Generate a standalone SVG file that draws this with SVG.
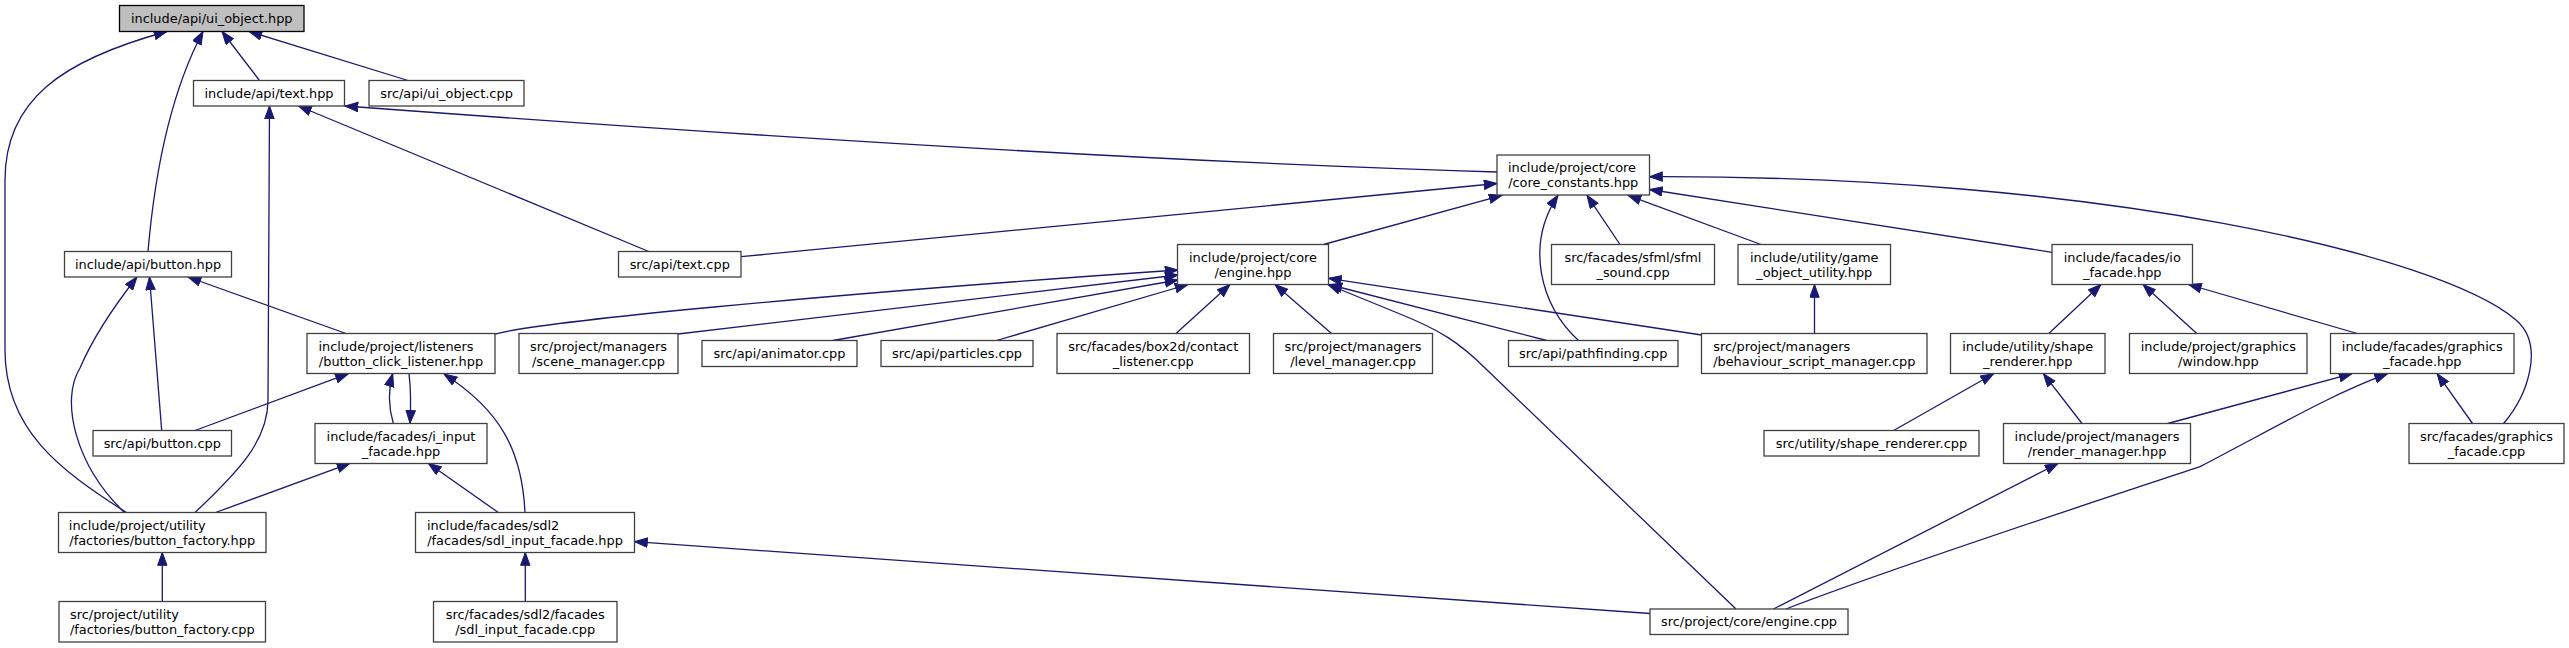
<svg xmlns="http://www.w3.org/2000/svg" width="2569" height="648" viewBox="0 0 2569 648">
<defs>
<style>
.n rect{fill:#ffffff;stroke:#404040;stroke-width:1.3}
.n.root rect{fill:#bfbfbf;stroke:#000000}
.n text{font-family:"DejaVu Sans","Liberation Sans",sans-serif;font-size:12.9px;fill:#000000}
.c{text-anchor:middle}
.e path{fill:none;stroke:#191970;stroke-width:1.3;marker-end:url(#arr)}
</style>
<marker id="arr" markerWidth="16" markerHeight="12" refX="13.3" refY="5" orient="auto" markerUnits="userSpaceOnUse">
<path d="M0.5,0.3 L13.3,5 L0.5,9.7 z" fill="#191970" stroke="#191970" stroke-width="1"/>
</marker>
</defs>
<rect width="2569" height="648" fill="#ffffff"/>
<g id="edges" class="e">
<path d="M148,251.5 C155,170 172,90 203,31.5"/>
<path d="M259.5,80.5 L222,31.5"/>
<path d="M408,80.5 L249,31.5"/>
<path d="M126.5,512.5 C60,470 5,430 5,350 L5,180 C5,100 62,60 167,31.5"/>
<path d="M195,512.5 C240,470 268,440 268,400 L269.5,106"/>
<path d="M648.8,251.5 L298.5,106"/>
<path d="M1497,172 C1100,160 600,125 345,106"/>
<path d="M741,256.7 L1497,183.5"/>
<path d="M1323.5,244.5 L1502,195.3"/>
<path d="M1579,341 C1540,305 1525,245 1558,195.3"/>
<path d="M1620,244.5 L1587,195.3"/>
<path d="M1761,244.5 L1628,195.3"/>
<path d="M2052,252.3 L1649.5,189.5"/>
<path d="M2503.6,423.5 C2528,395 2545,345 2516,320 C2440,255 2100,175 1649.5,176.7"/>
<path d="M495,334 C540,322 800,296 1178,270"/>
<path d="M678,334 L1178,275"/>
<path d="M832.8,340.5 L1178,280"/>
<path d="M996.5,340.5 L1188,284.5"/>
<path d="M1176,333.5 L1230,284.5"/>
<path d="M1331.5,333.5 L1275,284.5"/>
<path d="M1736,609 L1485,368 C1460,343 1440,330 1400,314 L1328,284.5"/>
<path d="M1548.7,341 L1329,284.5"/>
<path d="M1701.6,335 L1328.5,278.3"/>
<path d="M1814.5,333.5 L1814.5,284.5"/>
<path d="M2048.8,333.5 L2101,284.5"/>
<path d="M2196.8,333.5 L2143,284.5"/>
<path d="M2357.2,333.5 L2188.5,284.5"/>
<path d="M1893.6,430.5 L1993.6,373.7"/>
<path d="M2082,423.5 L2043.4,373.7"/>
<path d="M2167.8,423.5 L2352,373.7"/>
<path d="M1786,609 C1900,565 2100,500 2200,466.7 C2280,425 2330,395 2387.5,373.7"/>
<path d="M2472.5,423.5 L2437.2,373.7"/>
<path d="M1773.4,609 L2058,463.5"/>
<path d="M1650,613.5 L634.5,541.7"/>
<path d="M525.3,601.5 L525.3,552.5"/>
<path d="M162.3,601.5 L162.3,552.5"/>
<path d="M161.7,430.5 L149.5,277"/>
<path d="M124.4,512.5 C75,465 60,400 80,368 C92,340 115,305 137,277"/>
<path d="M346,333.5 L188,277"/>
<path d="M195,430.5 L348.3,373.7"/>
<path d="M393.3,423.5 C388,405 388,390 392.7,373.7"/>
<path d="M409,373.7 C411,390 411,405 410,423.3"/>
<path d="M525,512.5 C522,450 500,410 444,374"/>
<path d="M215.6,512.5 L350,463.3"/>
<path d="M498.3,512.5 L428.3,463.3"/>
</g>
<g id="n1" class="n root"><rect x="119.5" y="5.5" width="184.5" height="26"/><text class="c" x="211.75" y="23">include/api/ui_object.hpp</text></g>
<g id="n2" class="n"><rect x="193.5" y="80.5" width="151" height="25.5"/><text class="c" x="269" y="97.5">include/api/text.hpp</text></g>
<g id="n3" class="n"><rect x="369" y="80.5" width="155" height="25.5"/><text class="c" x="446.5" y="97.5">src/api/ui_object.cpp</text></g>
<g id="n4" class="n"><rect x="64.5" y="251.5" width="167" height="25.5"/><text class="c" x="148" y="268.5">include/api/button.hpp</text></g>
<g id="n5" class="n"><rect x="618.5" y="251.5" width="122.5" height="25.5"/><text class="c" x="679.75" y="268.5">src/api/text.cpp</text></g>
<g id="n6" class="n"><rect x="1497" y="155" width="152.5" height="40"/><text x="1508" y="172">include/project/core</text><text class="c" x="1573.25" y="187">/core_constants.hpp</text></g>
<g id="n7" class="n"><rect x="1177.5" y="244.5" width="151" height="40"/><text class="c" x="1253" y="261.5">include/project/core</text><text class="c" x="1253" y="276.5">/engine.hpp</text></g>
<g id="n8" class="n"><rect x="1551.5" y="244.5" width="163" height="40"/><text class="c" x="1633" y="261.5">src/facades/sfml/sfml</text><text class="c" x="1633" y="276.5">_sound.cpp</text></g>
<g id="n9" class="n"><rect x="1738" y="244.5" width="152.5" height="40"/><text class="c" x="1814.25" y="261.5">include/utility/game</text><text class="c" x="1814.25" y="276.5">_object_utility.hpp</text></g>
<g id="n10" class="n"><rect x="2052" y="244.5" width="140.5" height="40"/><text class="c" x="2122.25" y="261.5">include/facades/io</text><text class="c" x="2122.25" y="276.5">_facade.hpp</text></g>
<g id="n11" class="n"><rect x="307" y="333.5" width="188" height="40"/><text x="318.4" y="350.5">include/project/listeners</text><text class="c" x="401" y="365.5">/button_click_listener.hpp</text></g>
<g id="n12" class="n"><rect x="519" y="333.5" width="159" height="40"/><text class="c" x="598.5" y="350.5">src/project/managers</text><text class="c" x="598.5" y="365.5">/scene_manager.cpp</text></g>
<g id="n13" class="n"><rect x="702" y="340.5" width="155" height="26"/><text class="c" x="779.5" y="357.5">src/api/animator.cpp</text></g>
<g id="n14" class="n"><rect x="881" y="340.5" width="152" height="26"/><text class="c" x="957" y="357.5">src/api/particles.cpp</text></g>
<g id="n15" class="n"><rect x="1057" y="333.5" width="192.5" height="40"/><text class="c" x="1153.25" y="350.5">src/facades/box2d/contact</text><text class="c" x="1153.25" y="365.5">_listener.cpp</text></g>
<g id="n16" class="n"><rect x="1273.5" y="333.5" width="159" height="40"/><text class="c" x="1353" y="350.5">src/project/managers</text><text class="c" x="1353" y="365.5">/level_manager.cpp</text></g>
<g id="n17" class="n"><rect x="1508.5" y="340.5" width="169.5" height="26"/><text class="c" x="1593.25" y="357.5">src/api/pathfinding.cpp</text></g>
<g id="n18" class="n"><rect x="1701.5" y="333.5" width="225.5" height="40"/><text x="1713.3" y="350.5">src/project/managers</text><text class="c" x="1814.25" y="365.5">/behaviour_script_manager.cpp</text></g>
<g id="n19" class="n"><rect x="1950.5" y="333.5" width="154.5" height="40"/><text class="c" x="2027.75" y="350.5">include/utility/shape</text><text class="c" x="2027.75" y="365.5">_renderer.hpp</text></g>
<g id="n20" class="n"><rect x="2129.5" y="333.5" width="177.5" height="40"/><text class="c" x="2218.25" y="350.5">include/project/graphics</text><text class="c" x="2218.25" y="365.5">/window.hpp</text></g>
<g id="n21" class="n"><rect x="2330.5" y="333.5" width="183.5" height="40"/><text class="c" x="2422.25" y="350.5">include/facades/graphics</text><text class="c" x="2422.25" y="365.5">_facade.hpp</text></g>
<g id="n22" class="n"><rect x="93" y="430.5" width="138.5" height="25.5"/><text class="c" x="162.25" y="447.5">src/api/button.cpp</text></g>
<g id="n23" class="n"><rect x="315" y="423.5" width="172" height="40"/><text class="c" x="401" y="440.5">include/facades/i_input</text><text class="c" x="401" y="455.5">_facade.hpp</text></g>
<g id="n24" class="n"><rect x="1764" y="430.5" width="215" height="25.5"/><text class="c" x="1871.5" y="447.5">src/utility/shape_renderer.cpp</text></g>
<g id="n25" class="n"><rect x="2003.5" y="423.5" width="187" height="40"/><text class="c" x="2097" y="440.5">include/project/managers</text><text class="c" x="2097" y="455.5">/render_manager.hpp</text></g>
<g id="n26" class="n"><rect x="2409" y="423.5" width="155" height="40"/><text class="c" x="2486.5" y="440.5">src/facades/graphics</text><text class="c" x="2486.5" y="455.5">_facade.cpp</text></g>
<g id="n27" class="n"><rect x="58.5" y="512.5" width="207.5" height="40"/><text x="68.8" y="529.5">include/project/utility</text><text class="c" x="162.25" y="544.5">/factories/button_factory.hpp</text></g>
<g id="n28" class="n"><rect x="415.5" y="512.5" width="219" height="40"/><text x="427" y="529.5">include/facades/sdl2</text><text class="c" x="525" y="544.5">/facades/sdl_input_facade.hpp</text></g>
<g id="n29" class="n"><rect x="59" y="601.5" width="206.5" height="40.5"/><text x="70" y="618.5">src/project/utility</text><text class="c" x="162.25" y="633.5">/factories/button_factory.cpp</text></g>
<g id="n30" class="n"><rect x="433.5" y="601.5" width="183.5" height="40.5"/><text class="c" x="525.25" y="618.5">src/facades/sdl2/facades</text><text class="c" x="525.25" y="633.5">/sdl_input_facade.cpp</text></g>
<g id="n31" class="n"><rect x="1650" y="609" width="198" height="25.5"/><text class="c" x="1749" y="626">src/project/core/engine.cpp</text></g>
</svg>
